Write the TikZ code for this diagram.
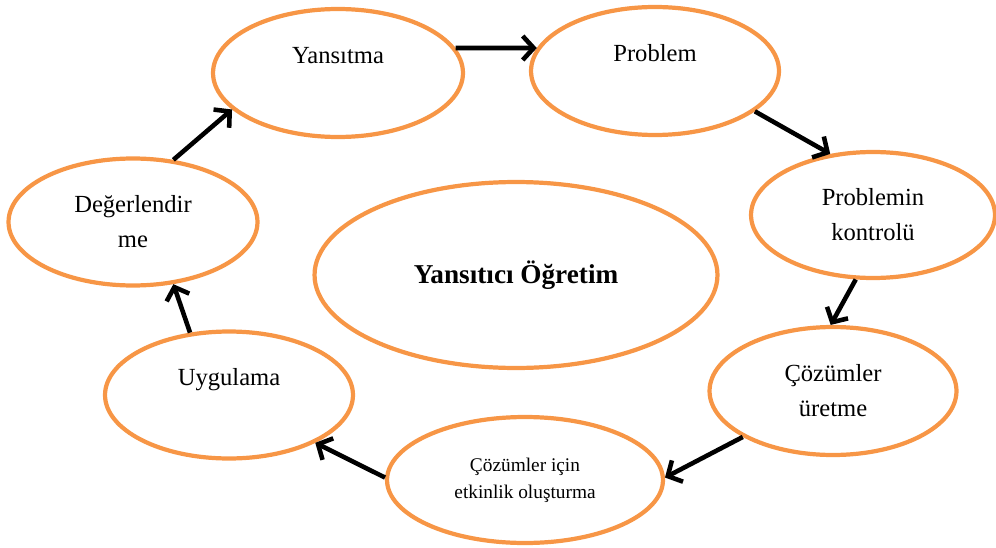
\documentclass[tikz,border=0pt]{standalone}
\usepackage{fontspec}
\setmainfont{Liberation Serif}
\usetikzlibrary{shapes.geometric, arrows.meta}
\definecolor{stageorange}{RGB}{247,150,70}

\begin{document}
\begin{tikzpicture}[x=0.02cm, y=-0.02cm,
    stage/.style={ellipse, draw=stageorange, line width=2.4pt, inner sep=0pt,
        align=center, font=\fontsize{14}{20}\selectfont},
    flow/.style={line width=2.6pt, -{Straight Barb[length=2.2mm, width=4.8mm, line width=2.6pt]}}]
    \useasboundingbox (0,0) rectangle (996,547);
    \node[stage, minimum width=5cm, minimum height=2.56cm] (refl) at (338,73) {Yansıtma\\~};
    \node[stage, minimum width=4.96cm, minimum height=2.56cm] (prob) at (655,71) {Problem\\~};
    \node[stage, minimum width=4.88cm, minimum height=2.52cm] (ctrl) at (873,215) {Problemin\\kontrolü};
    \node[stage, minimum width=4.94cm, minimum height=2.56cm] (sol) at (833,391) {Çözümler\\üretme};
    \node[stage, minimum width=5.52cm, minimum height=2.52cm, font=\fontsize{11}{15.5}\selectfont] (act) at (525,480) {Çözümler için\\etkinlik oluşturma};
    \node[stage, minimum width=4.96cm, minimum height=2.54cm] (app) at (229,395) {Uygulama\\~};
    \node[stage, minimum width=4.98cm, minimum height=2.54cm] (eval) at (133,222) {Değerlendir\\me};
    \node[stage, minimum width=8.06cm, minimum height=3.72cm, font=\fontsize{15.5}{20}\selectfont\bfseries] (core) at (516,275) {Yansıtıcı Öğretim};
    \draw[flow] (refl.12) -- (prob.169);
    \draw[flow] (prob.338) -- (ctrl.125);
    \draw[flow] (ctrl.255) -- (sol.92);
    \draw[flow] (sol.207) -- (act.1);
    \draw[flow] (act.179) -- (app.331);
    \draw[flow] (app.122) -- (eval.303);
    \draw[flow] (eval.57) -- (refl.199);
\end{tikzpicture}
\end{document}
